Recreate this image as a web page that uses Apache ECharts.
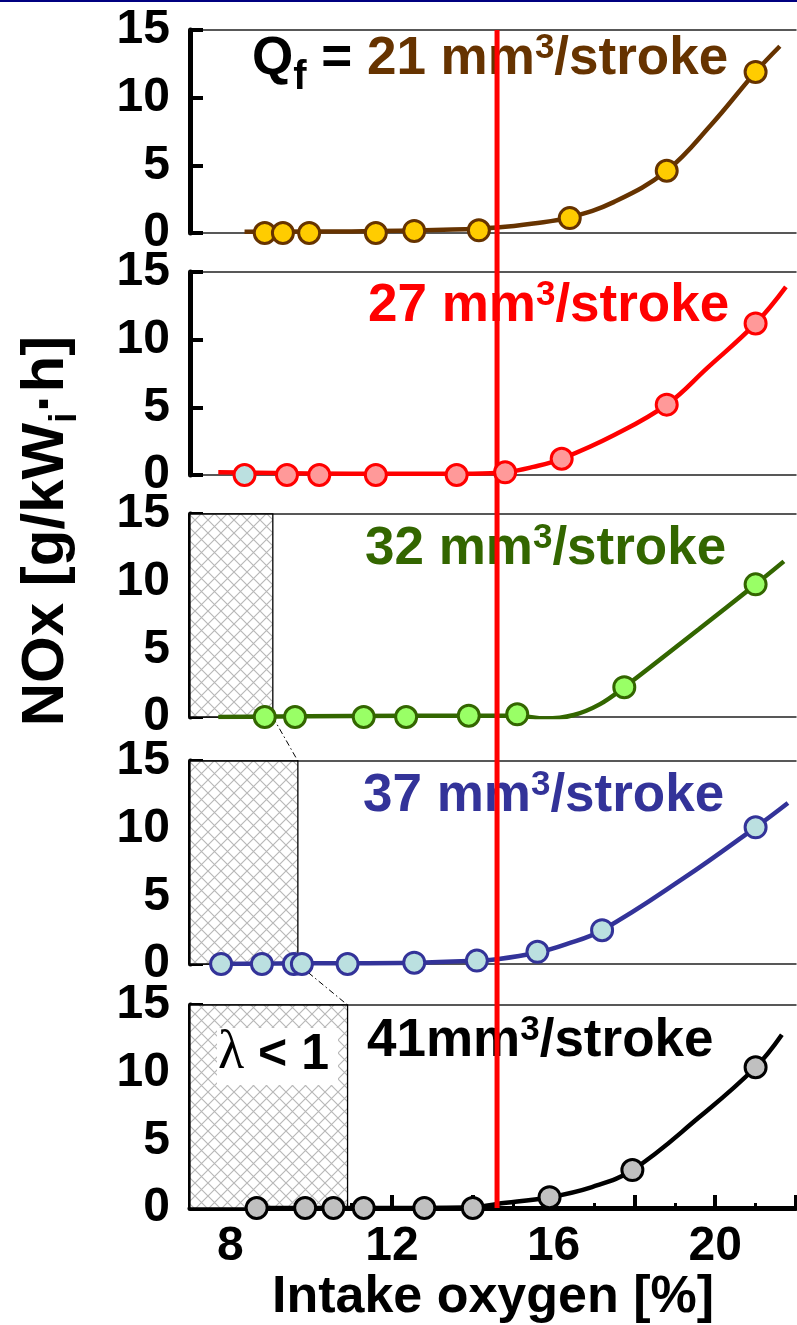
<!DOCTYPE html>
<html>
<head>
<meta charset="utf-8">
<script src="https://cdn.jsdelivr.net/npm/echarts@6/dist/echarts.min.js"></script>
<style>
  html, body { margin: 0; padding: 0; background: #fff; }
  #chart { width: 797px; height: 1325px; }
</style>
</head>
<body>
<div id="chart"></div>
<script>
// ---- axis extents and ticks ----
const xMin = 7, xMax = 22;
const yMin = 0, yMax = 15, yStep = 5;
const xMajorTicks = [8, 10, 12, 14, 16, 18, 20, 22];
const xMinorTicks = [9, 11, 13, 15, 17, 19, 21];
const xTickLabels = [8, 12, 16, 20];
const stoichO2 = 14.6;                  // red reference line, intake O2 [%]

// ---- fuel quantity per stroke for each panel ----
const fuelQty = ['21', '27', '32', '37', '41'];

// ---- measured points: intake O2 [%] vs NOx [g/kWi-h] ----
const o2_21  = [8.85, 9.3, 9.95, 11.6, 12.55, 14.15, 16.4, 18.8, 21.0];
const nox_21 = [0, 0, 0, 0, 0.15, 0.2, 1.1, 4.6, 11.9];
const o2_27  = [8.35, 9.4, 10.2, 11.6, 13.6, 14.8, 16.2, 18.8, 21.0];
const nox_27 = [0, 0, 0, 0, 0, 0.2, 1.2, 5.2, 11.2];
const o2_32  = [8.85, 9.6, 11.3, 12.35, 13.9, 15.1, 17.75, 21.0];
const nox_32 = [0, 0, 0, 0, 0.1, 0.2, 2.2, 9.8];
const o2_37  = [7.77, 8.78, 9.57, 9.77, 10.9, 12.55, 14.1, 15.6, 17.2, 21.0];
const nox_37 = [0, 0, 0, 0, 0, 0.1, 0.25, 0.9, 2.5, 10.1];
const o2_41  = [8.65, 9.85, 10.55, 11.3, 12.8, 14.0, 15.9, 17.95, 21.0];
const nox_41 = [0, 0, 0, 0, 0, 0, 0.8, 2.8, 10.4];

// ---- trend curves drawn through each data set ----
const fitX_21 = [8.35, 11, 13.5, 14.6, 15.5, 16.4, 17.5, 18.8, 19.9, 21.0, 21.6];
const fitY_21 = [0.1, 0.12, 0.25, 0.4, 0.7, 1.15, 2.3, 4.6, 8.0, 11.9, 13.8];
const fitX_27 = [7.7, 11, 14, 14.8, 15.5, 16.2, 17.5, 18.8, 19.8, 21.0, 21.75];
const fitY_27 = [0.2, 0.1, 0.1, 0.2, 0.6, 1.2, 2.95, 5.2, 7.9, 11.2, 13.9];
const fitX_32 = [7.7, 11, 14, 15.1, 15.8, 16.5, 17.15, 17.75, 19.6, 21.0, 21.7];
const fitY_32 = [0, 0.08, 0.1, 0.1, -0.12, 0.15, 0.95, 2.2, 6.5, 9.8, 11.5];
const fitX_37 = [7.5, 10, 12.55, 14.1, 14.6, 15.6, 16.3, 17.2, 19.2, 21.0, 21.8];
const fitY_37 = [0, 0.05, 0.1, 0.25, 0.35, 0.85, 1.45, 2.5, 6.3, 10.1, 11.9];
const fitX_41 = [8.6, 12, 14, 14.6, 15.9, 16.95, 17.95, 19.6, 21.0, 21.65];
const fitY_41 = [0, 0, 0.05, 0.3, 0.8, 1.55, 2.8, 6.7, 10.4, 12.8];

// ---- right edge of the rich-mixture (lambda < 1) zone per panel ----
const richEdge = [null, null, 9.05, 9.67, 10.9];

// ---- styling / layout ----
const FONT = '"Liberation Sans", Arial, Helvetica, sans-serif';
const SERIF = '"Liberation Serif", "Times New Roman", serif';
const lineColors = ['#663300', '#FF0000', '#336600', '#333399', '#000000'];
const fillColors = ['#FFCC00', '#FF9999', '#99FF66', '#BBE0E0', '#C0C0C0'];
const gridTops = [30, 272, 514, 761, 1005];
const gridH = 203, gridLeft = 190, gridW = 606;
const captionBase = [78, 325, 568, 815, 1060];
const captionLeft = [252, 368, 365, 363, 367];

const dotsX = [o2_21, o2_27, o2_32, o2_37, o2_41];
const dotsY = [nox_21, nox_27, nox_32, nox_37, nox_41];
const fitsX = [fitX_21, fitX_27, fitX_32, fitX_37, fitX_41];
const fitsY = [fitY_21, fitY_27, fitY_32, fitY_37, fitY_41];

function hatchTile() {
  const n = 13;
  const c = document.createElement('canvas');
  c.width = n; c.height = n;
  const g = c.getContext('2d');
  g.fillStyle = '#ffffff'; g.fillRect(0, 0, n, n);
  g.strokeStyle = '#b8b8b8'; g.lineWidth = 1.15;
  g.beginPath();
  g.moveTo(-1, -1); g.lineTo(n + 1, n + 1);
  g.moveTo(n + 1, -1); g.lineTo(-1, n + 1);
  g.stroke();
  return c;
}
const hatchPattern = { image: hatchTile(), repeat: 'repeat' };

const zip = (a, b) => a.map((v, i) => [v, b[i]]);

// text measuring for mixed-size captions
const mctx = document.createElement('canvas').getContext('2d');
function measure(str, size, weight, family) {
  mctx.font = weight + ' ' + size + 'px ' + family;
  return mctx.measureText(str).width;
}
const MID = 0.3465;   // distance from baseline up to the "middle" line, in em
// parts: {t, size, color, weight, family, shift (baseline offset, + is down)}
function textRun(x0, base, parts, z) {
  let x = x0;
  return parts.map(p => {
    const weight = p.weight || 'bold';
    const family = p.family || FONT;
    const el = {
      type: 'text', z: z || 1, silent: true,
      style: {
        x: x, y: base + (p.shift || 0) - MID * p.size,
        text: p.t, fill: p.color,
        font: weight + ' ' + p.size + 'px ' + family,
        align: 'left', verticalAlign: 'middle', textAlign: 'left', textVerticalAlign: 'middle'
      }
    };
    x += measure(p.t, p.size, weight, family);
    return el;
  });
}

const grids = [], xAxes = [], yAxes = [], series = [];
let texts = [];

for (let i = 0; i < 5; i++) {
  const last = i === 4;
  grids.push({ left: gridLeft, top: gridTops[i], width: gridW, height: gridH });

  // bottom axis of each panel
  xAxes.push({
    gridIndex: i, type: 'value', min: xMin, max: xMax, position: 'bottom',
    axisLine: { show: true, onZero: false, lineStyle: { color: last ? '#000' : '#222', width: last ? 5 : 1.5 } },
    axisTick: last ? { show: true, inside: true, length: 13, customValues: xMajorTicks,
                       lineStyle: { color: '#000', width: 4 } } : { show: false },
    axisLabel: last ? { show: true, customValues: xTickLabels, margin: 15, color: '#000',
                        fontSize: 48, fontWeight: 'bold', fontFamily: FONT } : { show: false },
    splitLine: { show: false },
    name: last ? 'Intake oxygen [%]' : '',
    nameLocation: 'middle', nameGap: 62,
    nameTextStyle: { fontSize: 52, fontWeight: 'bold', fontFamily: FONT, color: '#000' }
  });

  yAxes.push({
    gridIndex: i, type: 'value', min: yMin, max: yMax, interval: yStep,
    axisLine: { show: true, lineStyle: { color: '#000', width: 5 } },
    axisTick: { show: true, inside: true, length: 13, lineStyle: { color: '#000', width: 4 } },
    axisLabel: { color: '#000', fontSize: 48, fontWeight: 'bold', fontFamily: FONT, margin: 20 },
    splitLine: { show: false }
  });
}
// top frame line of each panel
for (let i = 0; i < 5; i++) {
  xAxes.push({
    gridIndex: i, type: 'value', min: xMin, max: xMax, position: 'top',
    axisLine: { show: true, onZero: false, lineStyle: { color: '#222', width: 1.5 } },
    axisTick: { show: false }, axisLabel: { show: false }, splitLine: { show: false }
  });
}
// minor ticks on the bottom panel
xAxes.push({
  gridIndex: 4, type: 'value', min: xMin, max: xMax, position: 'bottom',
  axisLine: { show: false },
  axisTick: { show: true, inside: true, length: 5, customValues: xMinorTicks,
              lineStyle: { color: '#000', width: 3 } },
  axisLabel: { show: false }, splitLine: { show: false }
});
// full-height overlay for the reference line
grids.push({ left: gridLeft, top: gridTops[0], width: gridW, height: gridTops[4] + gridH - gridTops[0] });
xAxes.push({ gridIndex: 5, type: 'value', min: xMin, max: xMax, show: false });
yAxes.push({ gridIndex: 5, type: 'value', min: 0, max: 1, show: false });

for (let i = 0; i < 5; i++) {
  const curve = {
    type: 'line', xAxisIndex: i, yAxisIndex: i, z: 3,
    data: zip(fitsX[i], fitsY[i]),
    smooth: 0.4, showSymbol: false, silent: true,
    lineStyle: { color: lineColors[i], width: 4.5 }
  };
  if (richEdge[i] !== null) {
    curve.markArea = {
      silent: true,
      itemStyle: { color: hatchPattern, borderColor: '#000', borderWidth: 1.3 },
      data: [[{ coord: [xMin, yMin] }, { coord: [richEdge[i], yMax] }]]
    };
  }
  series.push(curve);

  const pts = zip(dotsX[i], dotsY[i]).map((p, k) => {
    const item = { value: p };
    if (i === 1 && k === 0) item.itemStyle = { color: '#BBE0E0' };
    return item;
  });
  series.push({
    type: 'scatter', xAxisIndex: i, yAxisIndex: i, z: 6, silent: true,
    symbol: 'circle', symbolSize: 21, data: pts,
    itemStyle: { color: fillColors[i], borderColor: lineColors[i], borderWidth: 3, opacity: 1 }
  });
}
series.push({
  type: 'line', xAxisIndex: 11, yAxisIndex: 5, z: 5, silent: true,
  data: [[stoichO2, 0], [stoichO2, 1]], showSymbol: false,
  lineStyle: { color: '#FF0000', width: 5 }
});

// panel captions: fuel quantity per stroke
const CF = 53, SUP = 35, SUB = 40;
for (let i = 0; i < 5; i++) {
  const col = lineColors[i];
  const parts = [];
  if (i === 0) {
    parts.push({ t: 'Q', size: CF, color: '#000' });
    parts.push({ t: 'f', size: SUB, color: '#000', shift: 14 });
    parts.push({ t: ' = ', size: CF, color: '#000' });
  }
  parts.push({ t: fuelQty[i] + (i === 4 ? '' : ' ') + 'mm', size: CF, color: col });
  // superscript: digit top level with the capitals
  parts.push({ t: '3', size: SUP, color: col, shift: -(0.716 * CF - 0.716 * SUP) - 5 });
  parts.push({ t: '/stroke', size: CF, color: col });
  texts = texts.concat(textRun(captionLeft[i], captionBase[i], parts, 1));
}

// vertical axis title, rotated to read bottom-up
const TF = 60;
const titleParts = [
  { t: 'NOx [g/kW', size: TF, color: '#000' },
  { t: 'i', size: 38, color: '#000', shift: 12 },
  { t: '·h]', size: TF, color: '#000' }
];
const titleLen = titleParts.reduce((s, p) => s + measure(p.t, p.size, 'bold', FONT), 0);
texts.push({
  type: 'group', x: 67, y: 531, rotation: Math.PI / 2,
  children: textRun(-titleLen / 2, 0, titleParts, 1)
});

// lambda < 1 tag inside the rich zone of the last panel
texts.push({
  type: 'rect', z: 2, silent: true,
  shape: { x: 217, y: 1028, width: 121, height: 57 },
  style: { fill: '#fff' }
});
texts = texts.concat(textRun(218, 1073, [
  { t: 'λ', size: 54, color: '#000', weight: 'normal', family: SERIF },
  { t: ' < 1', size: 50, color: '#000' }
], 3));

// thin rule along the top edge
texts.push({
  type: 'rect', z: 1, silent: true,
  shape: { x: 0, y: 0, width: 797, height: 2 },
  style: { fill: '#000080' }
});

const chart = echarts.init(document.getElementById('chart'), null, { renderer: 'canvas' });
chart.setOption({
  animation: false,
  backgroundColor: '#fff',
  grid: grids, xAxis: xAxes, yAxis: yAxes, series: series,
  graphic: { elements: texts }
});

// dash-dot leaders joining the rich-zone corners of neighbouring panels
const leaders = [];
for (let i = 2; i < 4; i++) {
  const a = chart.convertToPixel({ gridIndex: i }, [richEdge[i], yMin]);
  const b = chart.convertToPixel({ gridIndex: i + 1 }, [richEdge[i + 1], yMax]);
  leaders.push({
    type: 'line', z: 4, silent: true,
    shape: { x1: a[0], y1: a[1], x2: b[0], y2: b[1] },
    style: { stroke: '#000', lineWidth: 1, lineDash: [6, 3, 1.5, 3] }
  });
}
chart.setOption({ graphic: { elements: texts.concat(leaders) } }, { replaceMerge: ['graphic'] });
</script>
</body>
</html>
